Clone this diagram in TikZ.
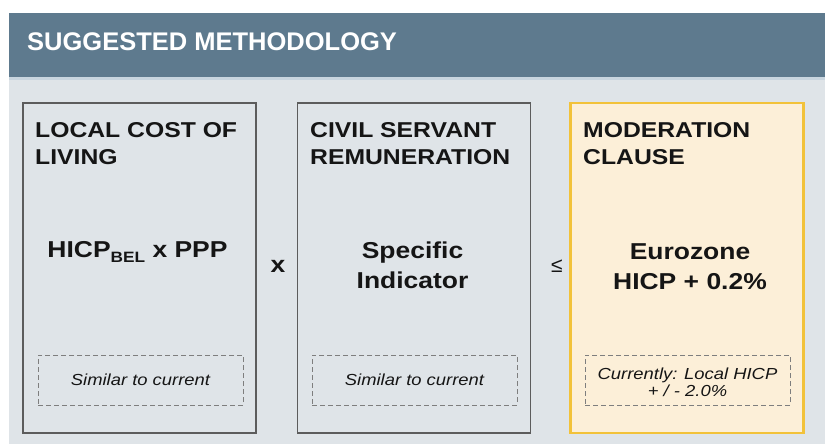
\documentclass[tikz,border=0pt]{standalone}
\usepackage{fontspec}
\setmainfont{Liberation Sans}
\newfontfamily\widesans{Liberation Sans}[FakeStretch=1.15]

\definecolor{hdrblue}{HTML}{5E7A8E}
\definecolor{hdrband}{HTML}{C8D5DF}
\definecolor{panelbg}{HTML}{DFE4E8}
\definecolor{panelline}{HTML}{5C5C5C}
\definecolor{creamfill}{HTML}{FCEFD8}
\definecolor{goldline}{HTML}{F2C23A}
\definecolor{dashgray}{HTML}{7E7E7E}
\definecolor{inkdark}{HTML}{151515}

\tikzset{
  panel/.style={draw=panelline, line width=1.8pt, fill=panelbg, rectangle,
    inner sep=0pt, minimum width=233pt, minimum height=330pt},
  hipanel/.style={panel, draw=goldline, line width=2.4pt, fill=creamfill},
  notebox/.style={draw=dashgray, line width=0.9pt, dash pattern=on 5pt off 3pt,
    rectangle, inner sep=0pt, minimum width=205pt, minimum height=50pt},
  paneltitle/.style={anchor=base west, inner sep=0pt, align=left, text=inkdark,
    font=\widesans\bfseries\fontsize{21.5}{27}\selectfont},
  core/.style={anchor=base, inner sep=0pt, align=center, text=inkdark,
    font=\widesans\bfseries\fontsize{23}{30}\selectfont},
  notetext/.style={inner sep=0pt, align=center, text=inkdark,
    font=\widesans\itshape\fontsize{16}{17}\selectfont},
  operator/.style={inner sep=0pt, text=inkdark}
}

\begin{document}
\begin{tikzpicture}[x=1pt, y=-1pt]
  % canvas
  \fill[white] (0,0) rectangle (825,444);
  \useasboundingbox (0,0) rectangle (825,444);
  \fill[panelbg] (9,80) rectangle (825,444);

  % header bar
  \node[fill=hdrblue, inner sep=0pt, minimum width=816pt, minimum height=64pt] (hdr) at (417,45) {};
  \fill[hdrband] (9,77) rectangle (825,80);
  \node[anchor=base west, inner sep=0pt, text=white,
        font=\bfseries\fontsize{25.5}{25.5}\selectfont] (hdrtxt) at (27,51) {SUGGESTED METHODOLOGY};

  % the three panels
  \node[panel]   (lcl) at (139.5,268) {};
  \node[panel]   (csr) at (414,268) {};
  \node[hipanel] (mod) at (687,268) {};

  % panel titles (base anchor sits on the last line)
  \node[paneltitle] (lcltitle) at (35,164)  {LOCAL COST OF\\LIVING};
  \node[paneltitle] (csrtitle) at (310,164) {CIVIL SERVANT\\REMUNERATION};
  \node[paneltitle] (modtitle) at (583,164) {MODERATION\\CLAUSE};

  % main formulas
  \node[core] (lclcore) at (137.5,257)
    {HICP\raisebox{-5pt}{\fontsize{15}{15}\selectfont BEL} x PPP};
  \node[core] (csrcore) at (412.5,288) {Specific\\Indicator};
  \node[core] (modcore) at (690,289) {Eurozone\\HICP + 0.2\%};

  % dashed notes
  \node[notebox] (lclnote) at (140.5,380) {};
  \node[notebox] (csrnote) at (414.5,380) {};
  \node[notebox] (modnote) at (687.5,380) {};
  \node[notetext] at (lclnote) {Similar to current};
  \node[notetext] at (csrnote) {Similar to current};
  \node[notetext] at ([yshift=-2pt]modnote.center) {Currently: Local HICP\\+ / - 2.0\%};

  % operators between panels
  \node[operator, font=\widesans\bfseries\fontsize{23}{23}\selectfont] (times) at (278,266) {x};
  \node[operator, font=\fontsize{21}{21}\selectfont] (leq) at (557,266) {≤};
\end{tikzpicture}
\end{document}
